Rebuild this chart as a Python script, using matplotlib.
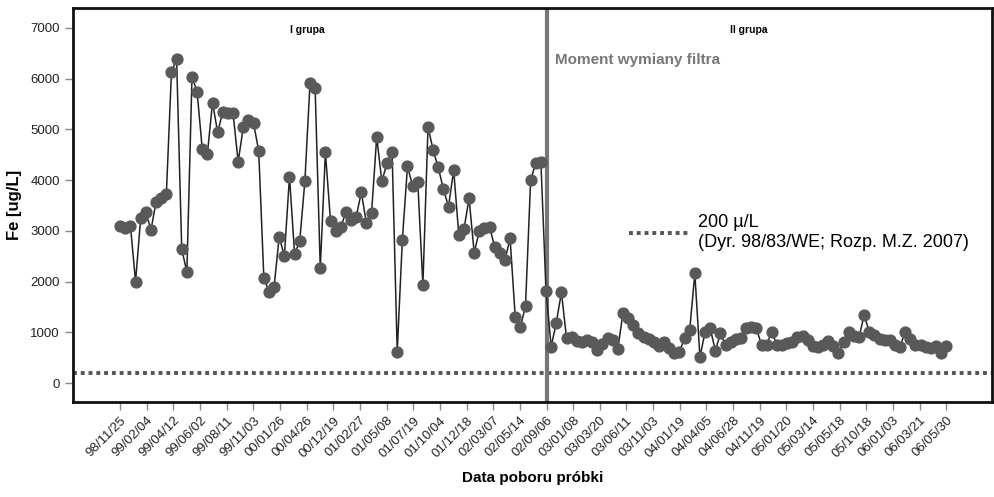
import numpy as np
import matplotlib
matplotlib.use('Agg')
import matplotlib.pyplot as plt

plt.rcParams['font.family'] = ['Liberation Sans', 'DejaVu Sans']

# Fe concentration per sample [ug/L]
group1 = [3100, 3050, 3100, 2000, 3250, 3370, 3020, 3570, 3650, 3720,
          6140, 6390, 2640, 2190, 6040, 5740, 4610, 4520, 5530, 4940,
          5350, 5330, 5320, 4360, 5050, 5190, 5120, 4580, 2080, 1800,
          1900, 2885, 2500, 4070, 2540, 2800, 3980, 5910, 5810, 2260,
          4550, 3190, 3000, 3080, 3370, 3210, 3280, 3760, 3150, 3360,
          4850, 3980, 4330, 4550, 620, 2830, 4270, 3890, 3970, 1930,
          5050, 4590, 4250, 3820, 3480, 4200, 2920, 3030, 3640, 2570,
          3000, 3050, 3080, 2680, 2560, 2430, 2850, 1300, 1100, 1520,
          4000, 4340, 4360, 1820]
group2 = [720, 1190, 1790, 880, 915, 830, 815, 850, 800, 650,
          770, 890, 850, 670, 1390, 1280, 1140, 990, 900, 860,
          815, 730, 815, 700, 585, 620, 880, 1045, 2160, 510,
          1010, 1080, 640, 980, 750, 815, 860, 895, 1090, 1110,
          1080, 750, 760, 1010, 750, 750, 780, 815, 915, 925,
          850, 730, 720, 750, 835, 730, 600, 815, 1010, 925,
          900, 1340, 1010, 945, 860, 850, 850, 750, 720, 1010,
          860, 750, 750, 720, 700, 730, 585, 730]
fe = group1 + group2

date_labels = ['98/11/25', '99/02/04', '99/04/12', '99/06/02', '99/08/11',
               '99/11/03', '00/01/26', '00/04/26', '00/12/19', '01/02/27',
               '01/05/08', '01/07/19', '01/10/04', '01/12/18', '02/03/07',
               '02/05/14', '02/09/06', '03/01/08', '03/03/20', '03/06/11',
               '03/11/03', '04/01/19', '04/04/05', '04/06/28', '04/11/19',
               '05/01/20', '05/03/14', '05/05/18', '05/10/18', '06/01/03',
               '06/03/21', '06/05/30']
limit = 200
change_label = '02/09/06'

n = len(fe)
x = np.arange(n)
tick_pos = np.linspace(0, n - 1, len(date_labels))
change_pos = tick_pos[date_labels.index(change_label)]

fig = plt.figure(figsize=(9.94, 4.97), dpi=100)
ax = fig.add_axes([0.0734, 0.191, 0.925, 0.793])

ax.axhline(limit, color='#555555', linestyle=(0, (1, 1)), linewidth=2.8,
           label='200 µ/L\n(Dyr. 98/83/WE; Rozp. M.Z. 2007)')
ax.axvline(change_pos, color='#777777', linewidth=3)
ax.plot(x, fe, color='#222222', linewidth=1.1, marker='o', markersize=7.8,
        markerfacecolor='#595959', markeredgecolor='#595959')

ax.set_xlim(-9.2, 170)
ax.set_ylim(-375, 7395)
ax.set_yticks(range(0, 7001, 1000))
ax.set_xticks(tick_pos)
ax.set_xticklabels(date_labels, rotation=45, ha='right', rotation_mode='anchor')
ax.tick_params(axis='both', direction='out', length=6, width=1,
               color='#888888', labelsize=9.5, labelcolor='#222222')
ax.tick_params(axis='x', pad=3)
for s in ax.spines.values():
    s.set_linewidth(2)
    s.set_color('#111111')

ax.set_ylabel('Fe [ug/L]', fontsize=12, fontweight='bold', labelpad=6)
ax.set_xlabel('Data poboru próbki', fontsize=11, fontweight='bold', labelpad=8)

ax.text(0.255, 0.945, 'I grupa', transform=ax.transAxes, fontsize=7.5,
        fontweight='bold', ha='center', va='center')
ax.text(0.735, 0.945, 'II grupa', transform=ax.transAxes, fontsize=7.5,
        fontweight='bold', ha='center', va='center')
ax.text(0.524, 0.867, 'Moment wymiany filtra', transform=ax.transAxes,
        fontsize=11, fontweight='bold', color='#777777', ha='left', va='center')

ax.legend(loc='center left', bbox_to_anchor=(0.587, 0.43), frameon=False,
          fontsize=13, handlelength=3.3, handletextpad=0.55)

fig.savefig('out.png', dpi=100)
